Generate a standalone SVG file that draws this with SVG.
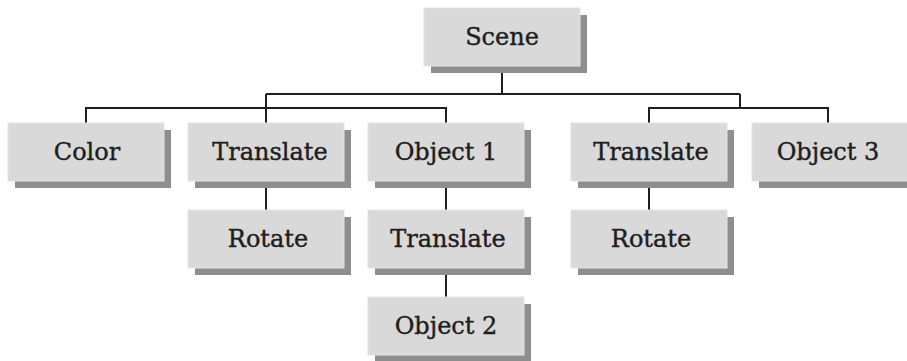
<svg xmlns="http://www.w3.org/2000/svg" width="907" height="361" viewBox="0 0 907 361">
<style>
.sh{fill:#8e8e8e}
.bx{fill:#d9d9d9;stroke:#e4e4e4;stroke-width:1}
.t{font-family:"DejaVu Serif","Liberation Serif",serif;font-size:24px;fill:#1e1e1e;stroke:#1e1e1e;stroke-width:0.4;text-anchor:middle}
.c{stroke:#1e1e1e;stroke-width:2;fill:none}
</style>
<defs>
<g id="box">
<rect class="sh" x="7" y="7" width="156" height="58"/>
<rect class="bx" x="0" y="0" width="156" height="58"/>
</g>
</defs>
<rect width="907" height="361" fill="#fff"/>
<g id="connectors">
<path class="c" d="M502 65V94M266 94H740M266 94V123M86 123V108H446V123M740 94V108M649 123V108H828V123M266 181V210M446 181V210M446 268V297M649 181V210"/>
</g>
<g id="scene"><use href="#box" x="424" y="8"/><text class="t" x="502" y="45">Scene</text></g>
<g id="color"><use href="#box" x="8" y="123"/><text class="t" x="87" y="160">Color</text></g>
<g id="translate1"><use href="#box" x="188" y="123"/><text class="t" x="270" y="160">Translate</text></g>
<g id="object1"><use href="#box" x="368" y="123"/><text class="t" x="446" y="160">Object 1</text></g>
<g id="translate3"><use href="#box" x="571" y="123"/><text class="t" x="651" y="160">Translate</text></g>
<g id="object3"><use href="#box" x="752" y="123"/><text class="t" x="828" y="160">Object 3</text></g>
<g id="rotate1"><use href="#box" x="188" y="210"/><text class="t" x="268" y="247">Rotate</text></g>
<g id="translate2"><use href="#box" x="368" y="210"/><text class="t" x="448" y="247">Translate</text></g>
<g id="rotate2"><use href="#box" x="571" y="210"/><text class="t" x="651" y="247">Rotate</text></g>
<g id="object2"><use href="#box" x="368" y="297"/><text class="t" x="446" y="334">Object 2</text></g>
</svg>
